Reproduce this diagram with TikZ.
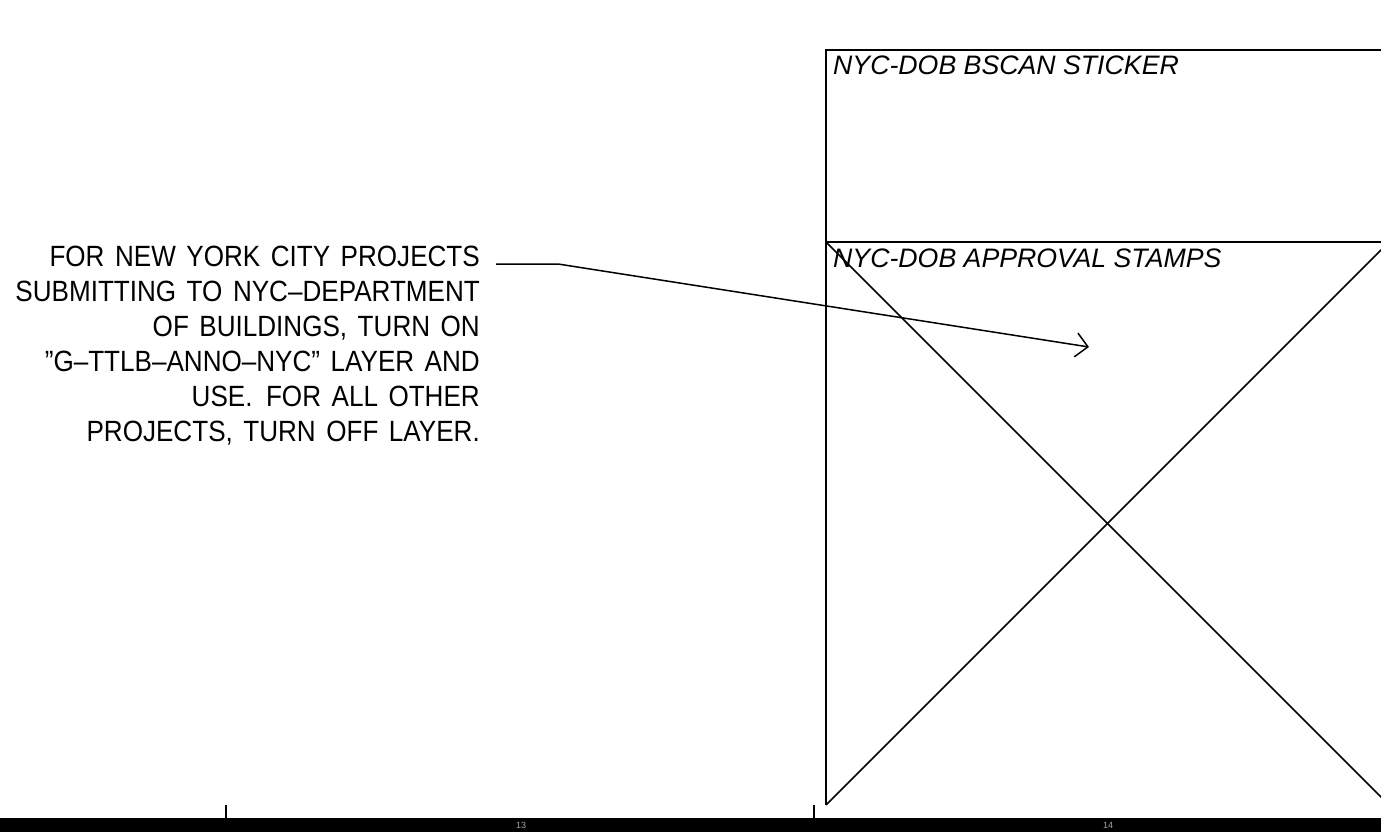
\documentclass[tikz,border=0pt]{standalone}
\usepackage{fontspec}
\setmainfont{Liberation Sans}
\newfontfamily\cadfont[FakeStretch=0.89, WordSpace=1.45]{Liberation Sans}
\usetikzlibrary{arrows.meta}
\tikzset{
  cadline/.style={line width=1.5pt, black},
  notetext/.style={font=\cadfont\fontsize{29.3}{35}\selectfont, align=right, inner sep=0pt},
  boxlabel/.style={font=\itshape\fontsize{26.7}{30}\selectfont, inner sep=0pt, anchor=base west},
  sheetno/.style={font=\fontsize{9}{9}\selectfont, text=gray!70, inner sep=0pt}
}

\begin{document}
\begin{tikzpicture}[x=1pt, y=-1pt]
			%%%%% START %%%%%
			\useasboundingbox (0, 0) rectangle (1381, 832);
			
			% stamp box
			\draw[cadline] (1389, 50) -- (826, 50) -- (826, 805);
			\draw[cadline] (826, 242) -- (1389, 242);
			\draw[cadline] (826, 242) -- (1389, 805);
			\draw[cadline] (1389, 242) -- (826, 805);
			\node[boxlabel] (sticker) at (833, 75) {NYC-DOB BSCAN STICKER};
			\node[boxlabel] (stamps) at (833, 267) {NYC-DOB APPROVAL STAMPS};
			
			% note with leader
			\node[notetext, anchor=north east] (note) at (480, 246)
			  {FOR NEW YORK CITY PROJECTS\\
			   SUBMITTING TO NYC–DEPARTMENT\\
			   OF BUILDINGS, TURN ON\\
			   ”G–TTLB–ANNO–NYC” LAYER AND\\
			   USE.\hspace{3pt} FOR ALL OTHER\\
			   PROJECTS, TURN OFF LAYER.};
			\coordinate (lead) at (496, 264);
			\coordinate (bend) at (558, 264);
			\coordinate (tip) at (1089, 347);
			\draw[cadline, -{Straight Barb[length=12pt, width=24pt, line width=1.5pt]}] (lead) -- (bend) -- (tip);
			
			% sheet border
			\draw[fill=black] (0, 818) rectangle (1381, 832);
			\draw[cadline] (226, 805) -- (226, 818);
			\draw[cadline] (814, 805) -- (814, 818);
			\node[sheetno] (s13) at (521, 825) {13};
			\node[sheetno] (s14) at (1108, 825) {14};
			
			%%%%% END %%%%%
\end{tikzpicture}
\end{document}
